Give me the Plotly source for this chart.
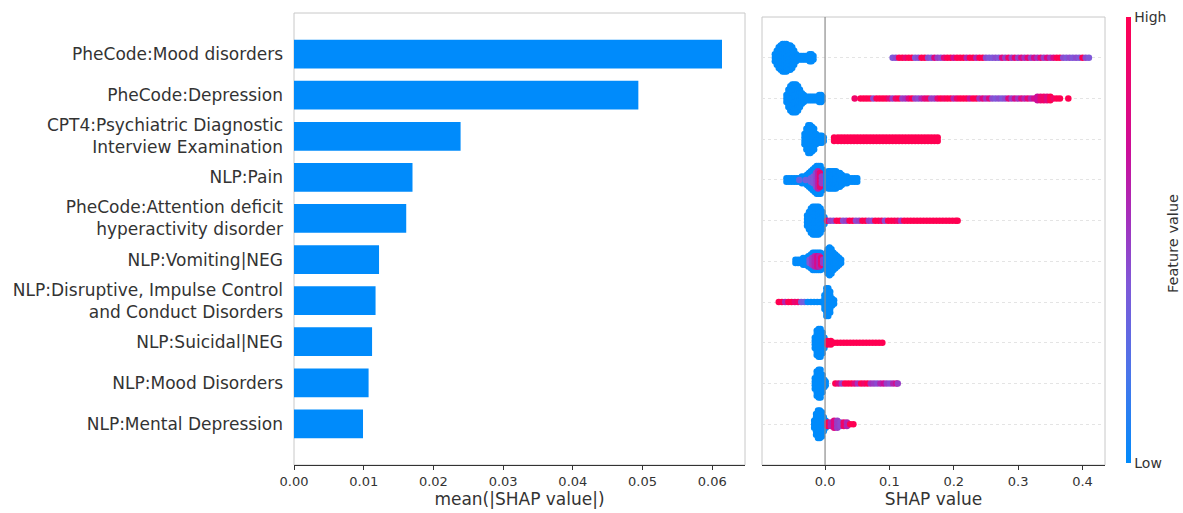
import plotly.graph_objects as go

# ---------------- data ----------------
features = [
    "PheCode:Mood disorders",
    "PheCode:Depression",
    "CPT4:Psychiatric Diagnostic<br>Interview Examination",
    "NLP:Pain",
    "PheCode:Attention deficit<br>hyperactivity disorder",
    "NLP:Vomiting|NEG",
    "NLP:Disruptive, Impulse Control<br>and Conduct Disorders",
    "NLP:Suicidal|NEG",
    "NLP:Mood Disorders",
    "NLP:Mental Depression",
]
mean_abs_shap = [0.0614, 0.0494, 0.0239, 0.0170, 0.0161, 0.0122, 0.0117, 0.0112, 0.0107, 0.0099]
bar_ticks = [0.00, 0.01, 0.02, 0.03, 0.04, 0.05, 0.06]
shap_ticks = [0.0, 0.1, 0.2, 0.3, 0.4]

# beeswarm rows: (SHAP value, number of stacked points, feature value 0=low..1=high)
r0 = [(-0.078, 3, 0), (-0.075, 5, 0), (-0.072, 7, 0), (-0.069, 8, 0), (-0.066, 9, 0), (-0.063, 9, 0),
      (-0.060, 9, 0), (-0.057, 8, 0), (-0.054, 8, 0), (-0.051, 7, 0), (-0.048, 5, 0), (-0.045, 3, 0),
      (-0.042, 2, 0), (-0.039, 2, 0), (-0.036, 2, 0), (-0.033, 2, 0), (-0.030, 2, 0), (-0.027, 2, 0),
      (-0.024, 3, 0), (-0.021, 3, 0), (-0.018, 2, 0),
      (0.105, 1, 0.4), (0.110, 1, 0.45), (0.115, 1, 1), (0.120, 1, 1), (0.125, 1, 0.85), (0.130, 1, 1),
      (0.135, 1, 1), (0.140, 1, 0.4), (0.145, 1, 0.45), (0.150, 1, 1), (0.155, 1, 1), (0.160, 1, 0.45),
      (0.165, 1, 0.4), (0.170, 1, 0.8), (0.175, 1, 0.5), (0.180, 1, 0.45), (0.185, 1, 0.8), (0.190, 1, 1),
      (0.195, 1, 1), (0.200, 1, 0.7), (0.205, 1, 1), (0.210, 1, 1), (0.215, 1, 1), (0.220, 1, 0.6),
      (0.225, 1, 1), (0.230, 1, 1), (0.235, 1, 0.6), (0.240, 1, 1), (0.245, 1, 1), (0.250, 1, 0.45),
      (0.255, 1, 0.4), (0.260, 1, 0.4), (0.265, 1, 0.45), (0.270, 1, 0.4), (0.275, 1, 0.8), (0.280, 1, 0.5),
      (0.285, 1, 0.9), (0.290, 1, 0.5), (0.295, 1, 0.85), (0.300, 1, 0.5), (0.305, 1, 0.8), (0.310, 1, 0.55),
      (0.315, 1, 0.85), (0.320, 1, 0.5), (0.325, 1, 0.75), (0.330, 1, 0.55), (0.335, 1, 0.85), (0.340, 1, 0.5),
      (0.345, 1, 0.8), (0.350, 1, 0.55), (0.355, 1, 0.75), (0.360, 1, 1), (0.365, 1, 1), (0.370, 1, 0.45),
      (0.375, 1, 0.4), (0.380, 1, 0.45), (0.385, 1, 0.4), (0.390, 1, 0.45), (0.395, 1, 0.4), (0.400, 1, 1),
      (0.405, 1, 0.45), (0.410, 1, 0.4)]
r1 = [(-0.060, 3, 0), (-0.057, 6, 0), (-0.054, 8, 0), (-0.051, 9, 0), (-0.048, 9, 0), (-0.045, 9, 0),
      (-0.042, 8, 0), (-0.039, 6, 0), (-0.036, 4, 0), (-0.033, 3, 0), (-0.030, 2, 0), (-0.027, 2, 0),
      (-0.024, 2, 0), (-0.021, 2, 0), (-0.018, 2, 0), (-0.015, 2, 0), (-0.012, 2, 0), (-0.009, 3, 0),
      (-0.006, 3, 0), (-0.004, 2, 0),
      (0.046, 1, 0.9), (0.055, 1, 1), (0.060, 1, 1), (0.065, 1, 1), (0.070, 1, 1), (0.075, 1, 0.45),
      (0.080, 1, 1), (0.085, 1, 1), (0.090, 1, 1), (0.095, 1, 1), (0.100, 1, 0.8), (0.105, 1, 0.5),
      (0.110, 1, 0.9), (0.115, 1, 1), (0.120, 1, 0.5), (0.125, 1, 0.55), (0.130, 1, 0.8), (0.135, 1, 1),
      (0.140, 1, 0.5), (0.145, 1, 0.45), (0.150, 1, 0.6), (0.155, 1, 0.8), (0.160, 1, 0.9), (0.165, 1, 0.5),
      (0.170, 1, 0.5), (0.175, 1, 0.85), (0.180, 1, 1), (0.185, 1, 0.9), (0.190, 1, 1), (0.195, 1, 1),
      (0.200, 1, 0.6), (0.205, 1, 0.9), (0.210, 1, 1), (0.215, 1, 1), (0.220, 1, 1), (0.225, 1, 0.7),
      (0.230, 1, 1), (0.235, 1, 1), (0.240, 1, 0.55), (0.245, 1, 0.8), (0.250, 1, 0.55), (0.255, 1, 0.8),
      (0.260, 1, 0.45), (0.265, 1, 0.4), (0.270, 1, 0.45), (0.275, 1, 0.4), (0.280, 1, 0.45), (0.285, 1, 0.8),
      (0.290, 1, 0.5), (0.295, 1, 0.75), (0.300, 1, 0.55), (0.305, 1, 0.8), (0.310, 1, 0.6), (0.315, 1, 0.85),
      (0.320, 1, 0.6), (0.325, 1, 0.75), (0.330, 2, 0.7), (0.335, 2, 0.85), (0.340, 2, 0.9), (0.345, 2, 0.8),
      (0.350, 2, 1), (0.355, 1, 0.9), (0.360, 1, 1), (0.365, 1, 1), (0.378, 1, 1)]
r2 = [(-0.032, 4, 0), (-0.029, 7, 0), (-0.026, 9, 0), (-0.023, 9, 0), (-0.020, 8, 0), (-0.017, 7, 0),
      (-0.014, 4, 0), (-0.011, 3, 0), (-0.008, 3, 0), (-0.005, 3, 0), (-0.002, 2, 0),
      (0.014, 2, 1), (0.020, 2, 1), (0.025, 2, 1), (0.030, 2, 1), (0.035, 2, 1), (0.040, 2, 1), (0.045, 2, 1),
      (0.050, 2, 1), (0.055, 2, 1), (0.060, 2, 1), (0.065, 2, 1), (0.070, 2, 1), (0.075, 2, 1), (0.080, 2, 1),
      (0.085, 2, 1), (0.090, 2, 1), (0.095, 2, 1), (0.100, 2, 1), (0.105, 2, 1), (0.110, 2, 1), (0.115, 2, 1),
      (0.120, 2, 1), (0.125, 2, 1), (0.130, 2, 1), (0.135, 2, 1), (0.140, 2, 1), (0.145, 2, 1), (0.150, 2, 1),
      (0.155, 2, 1), (0.160, 2, 1), (0.165, 2, 1), (0.170, 2, 1), (0.175, 2, 1)]
r3 = [(-0.060, 2, 0), (-0.056, 2, 0), (-0.052, 2, 0), (-0.048, 2, 0), (-0.044, 2, 0), (-0.040, 2, 0),
      (-0.036, 3, 0), (-0.032, 3, 0), (-0.028, 4, 0), (-0.025, 5, 0), (-0.022, 6, 0), (-0.019, 7, 0),
      (-0.016, 8, 0), (-0.013, 9, 0), (-0.010, 9, 0), (-0.007, 9, 0), (-0.004, 7, 0), (-0.002, 4, 0),
      (-0.040, 1, 0.3), (-0.030, 1, 0.35), (-0.022, 2, 0.35), (-0.018, 3, 0.4), (-0.014, 5, 0.45),
      (-0.011, 6, 0.6), (-0.008, 5, 0.85), (-0.005, 3, 0.5),
      (0.002, 5, 0), (0.005, 6, 0), (0.008, 6, 0), (0.011, 6, 0), (0.014, 6, 0), (0.017, 6, 0), (0.020, 5, 0),
      (0.023, 5, 0), (0.026, 4, 0), (0.030, 3, 0), (0.034, 3, 0), (0.038, 2, 0), (0.042, 2, 0), (0.046, 2, 0),
      (0.050, 2, 0)]
r4 = [(-0.028, 4, 0), (-0.025, 6, 0), (-0.022, 8, 0), (-0.019, 9, 0), (-0.016, 9, 0), (-0.013, 9, 0),
      (-0.010, 9, 0), (-0.007, 8, 0), (-0.004, 6, 0), (-0.001, 3, 0),
      (0.003, 1, 0.9), (0.008, 1, 0.5), (0.013, 1, 0.45), (0.018, 1, 1), (0.023, 1, 1), (0.028, 1, 0.45),
      (0.033, 1, 0.5), (0.038, 1, 1), (0.043, 1, 1), (0.048, 1, 0.45), (0.053, 1, 0.5), (0.058, 1, 1),
      (0.063, 1, 1), (0.068, 1, 0.5), (0.073, 1, 0.45), (0.078, 1, 1), (0.083, 1, 1), (0.088, 1, 0.9),
      (0.093, 1, 0.45), (0.098, 1, 1), (0.103, 1, 1), (0.108, 1, 1), (0.113, 1, 0.9), (0.118, 1, 0.55),
      (0.123, 1, 1), (0.128, 1, 1), (0.133, 1, 1), (0.138, 1, 1), (0.143, 1, 1), (0.148, 1, 1), (0.153, 1, 1),
      (0.158, 1, 1), (0.163, 1, 1), (0.168, 1, 1), (0.173, 1, 1), (0.178, 1, 1), (0.183, 1, 1), (0.188, 1, 1),
      (0.193, 1, 1), (0.198, 1, 1), (0.203, 1, 1), (0.206, 1, 1)]
r5 = [(-0.046, 2, 0), (-0.042, 2, 0), (-0.038, 2, 0), (-0.034, 3, 0), (-0.030, 3, 0), (-0.026, 4, 0),
      (-0.022, 5, 0), (-0.019, 6, 0), (-0.016, 6, 0), (-0.013, 6, 0), (-0.010, 6, 0), (-0.007, 6, 0),
      (-0.004, 5, 0), (-0.002, 4, 0),
      (-0.024, 2, 0.4), (-0.020, 3, 0.5), (-0.016, 4, 0.6), (-0.012, 4, 0.75), (-0.009, 4, 0.6),
      (-0.006, 3, 0.85), (-0.003, 2, 0.5),
      (0.002, 6, 0), (0.004, 8, 0), (0.007, 9, 0), (0.010, 8, 0), (0.013, 6, 0), (0.016, 5, 0), (0.019, 4, 0),
      (0.022, 3, 0), (0.025, 2, 0)]
r6 = [(-0.072, 1, 1), (-0.067, 1, 1), (-0.062, 1, 0.6), (-0.057, 1, 1), (-0.052, 1, 1), (-0.047, 1, 0.85),
      (-0.042, 1, 0.9), (-0.037, 1, 0.4), (-0.032, 1, 0.35), (-0.027, 1, 0), (-0.022, 1, 0), (-0.017, 1, 0),
      (-0.012, 1, 0), (-0.007, 1, 0), (-0.003, 1, 0),
      (-0.001, 5, 0), (0.002, 9, 0), (0.005, 9, 0), (0.008, 7, 0), (0.011, 3, 0), (0.014, 2, 0)]
r7 = [(-0.016, 4, 0), (-0.013, 8, 0), (-0.010, 9, 0), (-0.007, 9, 0), (-0.004, 7, 0), (-0.001, 4, 0),
      (0.001, 2, 0),
      (0.004, 2, 1), (0.009, 2, 1), (0.014, 1, 1), (0.019, 1, 1), (0.024, 1, 1), (0.029, 1, 1), (0.034, 1, 1),
      (0.039, 1, 1), (0.044, 1, 1), (0.049, 1, 1), (0.054, 1, 1), (0.059, 1, 1), (0.064, 1, 1), (0.069, 1, 1),
      (0.074, 1, 1), (0.079, 1, 1), (0.084, 1, 1), (0.089, 1, 1)]
r8 = [(-0.016, 4, 0), (-0.013, 8, 0), (-0.010, 9, 0), (-0.007, 9, 0), (-0.004, 6, 0), (-0.001, 3, 0),
      (0.001, 2, 0),
      (0.016, 1, 1), (0.021, 1, 0.8), (0.026, 1, 0.5), (0.031, 1, 1), (0.036, 1, 1), (0.041, 1, 1),
      (0.046, 1, 0.8), (0.051, 1, 0.55), (0.056, 1, 1), (0.061, 1, 0.9), (0.066, 1, 1), (0.071, 1, 0.55),
      (0.076, 1, 0.5), (0.081, 1, 0.45), (0.086, 1, 0.6), (0.091, 1, 0.7), (0.096, 1, 0.5), (0.101, 1, 0.45),
      (0.106, 1, 0.6), (0.111, 1, 0.8), (0.113, 1, 0.5)]
r9 = [(-0.017, 3, 0), (-0.014, 7, 0), (-0.011, 9, 0), (-0.008, 9, 0), (-0.005, 8, 0), (-0.002, 5, 0),
      (0.001, 3, 0),
      (0.004, 2, 1), (0.009, 2, 0.6), (0.014, 3, 0.8), (0.019, 3, 0.5), (0.024, 2, 0.45), (0.029, 2, 0.9),
      (0.034, 2, 0.6), (0.039, 1, 1), (0.044, 1, 1)]
swarm_rows = [r0, r1, r2, r3, r4, r5, r6, r7, r8, r9]

# ---------------- styling ----------------
W, H = 1183, 513
FONT = "DejaVu Sans"
TXT = "#333333"
BLUE = "#008bfb"
red_blue = [[0.0, "#008bfb"], [0.2, "#4a75ea"], [0.4, "#7f58d8"], [0.55, "#a52fbc"],
            [0.7, "#cc0d99"], [0.85, "#e90673"], [1.0, "#ff0052"]]
DY = 0.085


def px_x(p):
    return p / W


def px_y(p):
    return 1 - p / H


ypos = list(range(len(features)))

fig = go.Figure()

fig.add_trace(go.Bar(
    x=mean_abs_shap, y=ypos, orientation="h", width=0.7,
    marker=dict(color=BLUE, line=dict(width=0)),
    xaxis="x", yaxis="y", showlegend=False,
))

xs, ys, cs = [], [], []
for i, row in enumerate(swarm_rows):
    for (v, n, c) in row:
        for k in range(n):
            xs.append(v)
            ys.append(i + (k - (n - 1) / 2) * DY)
            cs.append(c)

fig.add_trace(go.Scatter(
    x=xs, y=ys, mode="markers", xaxis="x2", yaxis="y2", showlegend=False,
    marker=dict(
        size=6.5, color=cs, colorscale=red_blue, cmin=0, cmax=1, line=dict(width=0),
        showscale=True,
        colorbar=dict(
            x=px_x(1126), xanchor="left", xpad=0, ypad=0,
            y=px_y(240), yanchor="middle", len=446, lenmode="pixels",
            thickness=5, outlinewidth=0, ticks="",
            tickvals=[0, 1], ticktext=["Low", "High"],
            tickfont=dict(family=FONT, size=14, color=TXT),
        ),
    ),
))

left_dom_x = [px_x(294), px_x(745)]
right_dom_x = [px_x(762), px_x(1105)]
left_dom_y = [px_y(465), px_y(13)]
right_dom_y = [px_y(465), px_y(17)]

axis_common = dict(showgrid=False, zeroline=False, automargin=False)

fig.update_layout(
    width=W, height=H,
    margin=dict(l=0, r=0, t=0, b=0),
    paper_bgcolor="white", plot_bgcolor="white",
    font=dict(family=FONT, color=TXT),
    xaxis=dict(
        domain=left_dom_x, range=[0, 0.0647], anchor="y",
        tickvals=bar_ticks, tickformat=".2f",
        ticks="outside", ticklen=4, tickcolor=TXT,
        showline=True, linecolor=TXT, linewidth=1,
        tickfont=dict(family=FONT, size=13, color=TXT),
        title=dict(text="mean(|SHAP value|)", font=dict(family=FONT, size=17, color=TXT), standoff=4),
        **axis_common,
    ),
    yaxis=dict(
        domain=left_dom_y, range=[10, -1], anchor="x",
        tickvals=ypos, ticktext=features, ticks="", ticklabelstandoff=10,
        tickfont=dict(family=FONT, size=17, color=TXT),
        showline=False,
        **axis_common,
    ),
    xaxis2=dict(
        domain=right_dom_x, range=[-0.098, 0.435], anchor="y2",
        tickvals=shap_ticks, tickformat=".1f",
        ticks="outside", ticklen=4, tickcolor=TXT,
        showline=True, linecolor=TXT, linewidth=1,
        tickfont=dict(family=FONT, size=13, color=TXT),
        title=dict(text="SHAP value", font=dict(family=FONT, size=17, color=TXT), standoff=4),
        **axis_common,
    ),
    yaxis2=dict(
        domain=right_dom_y, range=[10, -1], anchor="x2",
        tickvals=ypos, showticklabels=False, ticks="",
        showgrid=True, gridcolor="#e4e4e4", gridwidth=1, griddash="dot",
        zeroline=False, automargin=False,
    ),
    shapes=[
        dict(type="rect", xref="x domain", yref="y domain", x0=0, x1=1, y0=0, y1=1,
             line=dict(color="#c8c8c8", width=1), layer="below"),
        dict(type="rect", xref="x2 domain", yref="y2 domain", x0=0, x1=1, y0=0, y1=1,
             line=dict(color="#c8c8c8", width=1), layer="below"),
        dict(type="line", xref="x2", yref="y2 domain", x0=0, x1=0, y0=0, y1=1,
             line=dict(color="rgba(140,140,140,0.8)", width=1.5), layer="above"),
    ],
    annotations=[
        dict(text="Feature value", xref="paper", yref="paper", x=px_x(1173), y=px_y(244),
             textangle=-90, showarrow=False, xanchor="center", yanchor="middle",
             font=dict(family=FONT, size=14.5, color=TXT)),
    ],
)

fig.write_html("out.html", config={"displayModeBar": False},
               post_script="document.body.style.margin='0px';document.body.style.padding='0px';")
